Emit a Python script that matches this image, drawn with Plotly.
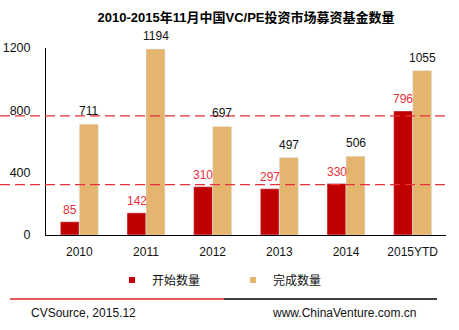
import plotly.graph_objects as go

categories = ["2010", "2011", "2012", "2013", "2014", "2015YTD"]
started = [85, 142, 310, 297, 330, 796]
completed = [711, 1194, 697, 497, 506, 1055]
series_names = ["开始数量", "完成数量"]
y_ticks = [0, 400, 800, 1200]
ref_lines = [765, 323]

RED = "#C00000"
TAN = "#E3B56E"
LABEL_RED = "#E8303A"
FONT = "Liberation Sans, Arial, Noto Sans CJK SC, sans-serif"

BARGAP = 0.43
PLOT_W = 400
bar_px = PLOT_W / len(categories) * (1 - BARGAP) / 2

fig = go.Figure()
fig.add_trace(go.Bar(x=categories, y=started, name=series_names[0], marker_color=RED,
                     showlegend=False))
fig.add_trace(go.Bar(x=categories, y=completed, name=series_names[1], marker_color=TAN,
                     showlegend=False))
# legend entries with small square markers
fig.add_trace(go.Scatter(x=[None], y=[None], mode="markers", name=series_names[0],
                         marker=dict(symbol="square", size=6, color=RED), legend="legend"))
fig.add_trace(go.Scatter(x=[None], y=[None], mode="markers", name=series_names[1],
                         marker=dict(symbol="square", size=6, color=TAN), legend="legend2"))

shapes = []
for v in ref_lines:
    shapes.append(dict(type="line", xref="paper", yref="y", x0=-0.115, x1=1.0, y0=v, y1=v,
                       line=dict(color=LABEL_RED, width=1.3, dash="10px,5px")))
shapes.append(dict(type="line", xref="paper", yref="paper", x0=-0.09, x1=0.445, y0=-0.342, y1=-0.342,
                   line=dict(color="#E02020", width=1.6)))
shapes.append(dict(type="line", xref="paper", yref="paper", x0=0.445, x1=0.9775, y0=-0.342, y1=-0.342,
                   line=dict(color="#000000", width=1.6)))

annotations = [
    dict(text="CVSource, 2015.12", xref="paper", yref="paper", x=-0.0425, y=-0.417,
         xanchor="left", yanchor="middle", showarrow=False,
         font=dict(size=12, color="#111111", family=FONT)),
    dict(text="www.ChinaVenture.com.cn", xref="paper", yref="paper", x=0.56, y=-0.417,
         xanchor="left", yanchor="middle", showarrow=False,
         font=dict(size=12, color="#111111", family=FONT)),
]
# data labels: x given as category index on the category axis
for i, v in enumerate(started):
    annotations.append(dict(text=str(v), x=i, y=v, xref="x", yref="y", xshift=-bar_px / 2,
                            yanchor="bottom", yshift=3, showarrow=False,
                            font=dict(size=12, color=LABEL_RED, family=FONT)))
for i, v in enumerate(completed):
    annotations.append(dict(text=str(v), x=i, y=v, xref="x", yref="y", xshift=bar_px / 2,
                            yanchor="bottom", yshift=4, showarrow=False,
                            font=dict(size=12, color="#111111", family=FONT)))

legend_common = dict(orientation="h", yanchor="middle", y=-0.24, xanchor="left", itemwidth=30,
                     font=dict(size=12, color="#111111", family=FONT), bgcolor="rgba(0,0,0,0)")

fig.update_layout(
    width=459, height=330,
    margin=dict(l=46, r=13, t=48, b=95, autoexpand=False),
    paper_bgcolor="white", plot_bgcolor="white",
    title=dict(text="<b>2010-2015年11月中国VC/PE投资市场募资基金数量</b>", x=0.536, xanchor="center",
               y=0.948, yanchor="middle", font=dict(size=13, color="#000000", family=FONT)),
    barmode="group", bargap=BARGAP, bargroupgap=0,
    font=dict(family=FONT, size=12, color="#111111"),
    showlegend=True,
    legend=dict(x=0.165, **legend_common),
    legend2=dict(x=0.4675, **legend_common),
    shapes=shapes, annotations=annotations,
)
fig.update_xaxes(type="category", categoryorder="array", categoryarray=categories,
                 range=[-0.5, len(categories) - 0.5],
                 showline=True, linecolor="#000000", linewidth=1, showgrid=False, automargin=False,
                 ticks="", ticklabelstandoff=6, tickfont=dict(size=12, color="#111111"))
fig.update_yaxes(range=[0, 1200], tickvals=y_ticks, showline=True, linecolor="#000000", linewidth=1,
                 showgrid=False, zeroline=False, ticks="", ticklabelstandoff=12, automargin=False,
                 tickfont=dict(size=12.5, color="#111111"))

fig.write_html("out.html")
